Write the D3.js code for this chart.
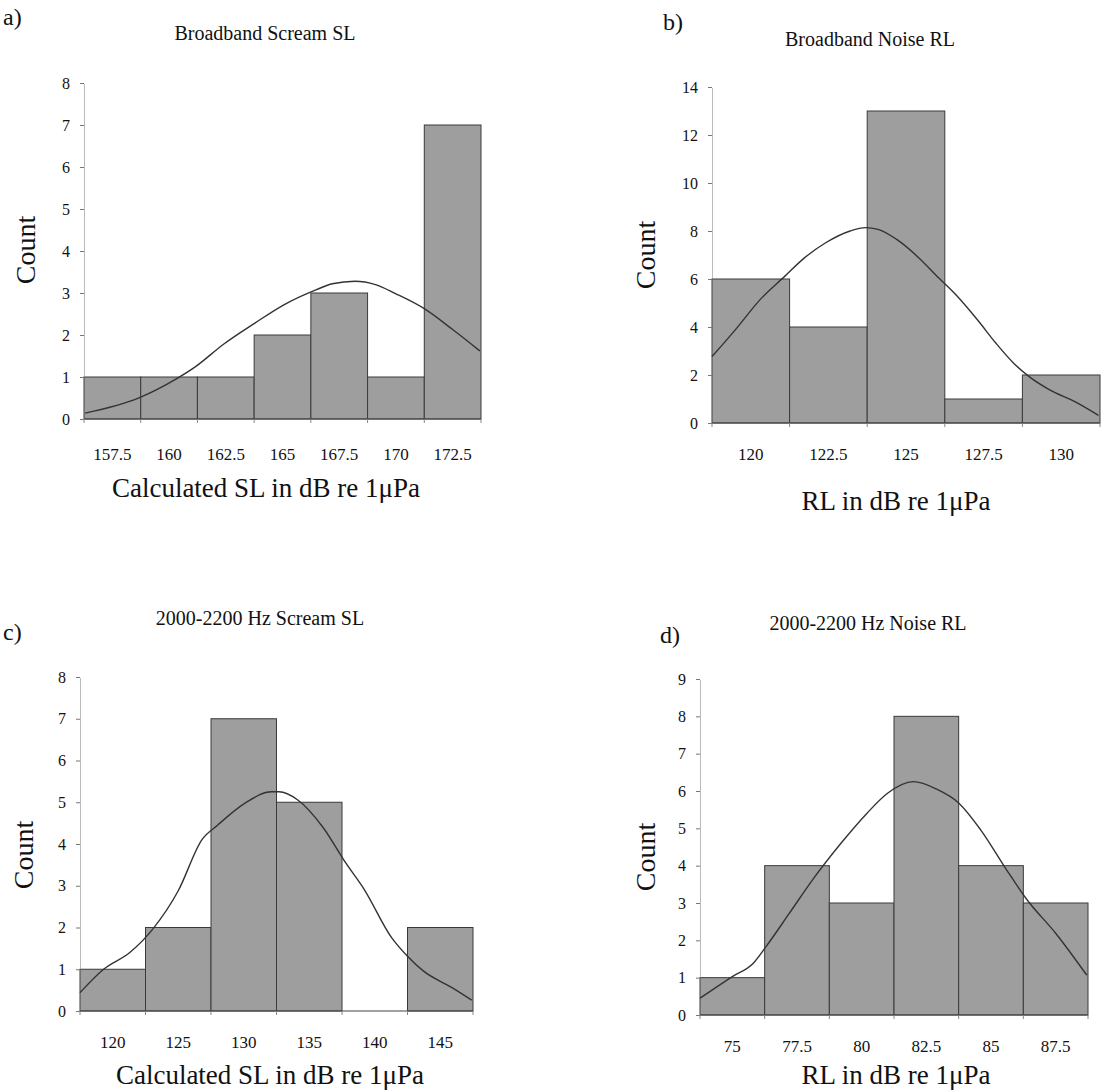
<!DOCTYPE html>
<html>
<head>
<meta charset="utf-8">
<script src="https://cdn.jsdelivr.net/npm/d3@7"></script>
<style>
  html, body { margin: 0; padding: 0; background: #fff; }
  svg { display: block; }
  text { font-family: "Liberation Serif", "Times New Roman", serif; fill: #111; }
</style>
</head>
<body>
<svg id="chart" width="1101" height="1092"></svg>
<script>
// ---------- DATA ----------
// a) Broadband Scream SL
const aCenters = [157.5, 160, 162.5, 165, 167.5, 170, 172.5];
const aCounts  = [1, 1, 1, 2, 3, 1, 7];
const aCurveX  = [156.3, 158.7, 160.3, 161.2, 162.4, 163.8, 165.1, 166.5, 167.2, 168.2, 169.1, 170.0, 171.3, 172.5, 173.7];
const aCurveY  = [0.14, 0.51, 0.95, 1.26, 1.78, 2.29, 2.73, 3.08, 3.22, 3.28, 3.20, 2.98, 2.61, 2.13, 1.62];

// b) Broadband Noise RL
const bCurveX  = [118.75, 119.5, 120.3, 121.1, 121.7, 122.4, 123.2, 123.7, 124.1, 124.7, 125.4, 126.05, 126.6, 127.3, 127.9, 128.5, 129.0, 129.6, 130.5, 131.2];
const bCurveY  = [2.77, 3.88, 5.14, 6.12, 6.85, 7.5, 8.0, 8.14, 8.07, 7.65, 6.9, 6.05, 5.35, 4.3, 3.32, 2.45, 1.9, 1.4, 0.85, 0.32];
const bCenters = [120, 122.5, 125, 127.5, 130];
const bCounts  = [6, 4, 13, 1, 2];

// c) 2000-2200 Hz Scream SL
const cCenters = [120, 125, 130, 135, 140, 145];
const cCounts  = [1, 2, 7, 5, 0, 2];
const cCurveX  = [117.5, 119.3, 121.3, 123.1, 125.0, 126.8, 128.0, 130.1, 132.1, 132.7, 134.1, 136.0, 137.8, 139.2, 141.3, 142.5, 143.7, 145.9, 147.4];
const cCurveY  = [0.44, 1.0, 1.4, 1.98, 2.88, 4.1, 4.45, 4.98, 5.25, 5.25, 5.06, 4.42, 3.54, 2.91, 1.75, 1.31, 0.96, 0.56, 0.26];

// d) 2000-2200 Hz Noise RL
const dCenters = [75, 77.5, 80, 82.5, 85, 87.5];
const dCounts  = [1, 4, 3, 8, 4, 3];
const dCurveX  = [73.75, 75.0, 75.8, 76.3, 77.2, 78.1, 79.2, 80.2, 81.0, 82.0, 82.9, 83.75, 84.6, 85.6, 86.4, 87.5, 88.7];
const dCurveY  = [0.45, 1.03, 1.38, 1.83, 2.72, 3.62, 4.6, 5.4, 5.94, 6.25, 6.05, 5.68, 4.96, 3.89, 3.08, 2.19, 1.07];

const titles  = ["Broadband Scream SL", "Broadband Noise RL", "2000-2200 Hz Scream SL", "2000-2200 Hz Noise RL"];
const xLabels = ["Calculated SL in dB re 1\u03BCPa", "RL in dB re 1\u03BCPa", "Calculated SL in dB re 1\u03BCPa", "RL in dB re 1\u03BCPa"];
const panelTags = ["a)", "b)", "c)", "d)"];
const yMaxes  = [8, 14, 8, 9];
const yStepVals = [1, 2, 1, 1];
const binWidths = [2.5, 2.5, 5, 2.5];

// ---------- LAYOUT ----------
const layout = [
  { x0: 84,  x1: 481,  y0: 419,  yT: 83,  tagX: 3,   tagY: 25,  tX: 265, tY: 40,  lX: 266, lY: 497,  cX: 35,  cY: 250, tickY: 460 },
  { x0: 712, x1: 1100, y0: 423,  yT: 87,  tagX: 663, tagY: 30,  tX: 870, tY: 46,  lX: 896, lY: 510,  cX: 655, cY: 255, tickY: 460 },
  { x0: 80,  x1: 473,  y0: 1011, yT: 677, tagX: 3,   tagY: 640, tX: 260, tY: 625, lX: 270, lY: 1084, cX: 33,  cY: 855, tickY: 1048 },
  { x0: 700, x1: 1088, y0: 1015, yT: 679, tagX: 660, tagY: 643, tX: 868, tY: 630, lX: 896, lY: 1084, cX: 655, cY: 857, tickY: 1052 }
];

const panels = [
  { centers: aCenters, counts: aCounts, cx: aCurveX, cy: aCurveY },
  { centers: bCenters, counts: bCounts, cx: bCurveX, cy: bCurveY },
  { centers: cCenters, counts: cCounts, cx: cCurveX, cy: cCurveY },
  { centers: dCenters, counts: dCounts, cx: dCurveX, cy: dCurveY }
];

const svg = d3.select("#chart");

panels.forEach((p, i) => {
  const L = layout[i];
  const w = binWidths[i];
  const lo = p.centers[0] - w / 2;
  const hi = p.centers[p.centers.length - 1] + w / 2;
  const x = d3.scaleLinear().domain([lo, hi]).range([L.x0, L.x1]);
  const y = d3.scaleLinear().domain([0, yMaxes[i]]).range([L.y0, L.yT]);
  const g = svg.append("g");

  // panel tag
  g.append("text").attr("x", L.tagX).attr("y", L.tagY)
    .style("font-size", "24px").text(panelTags[i]);
  // title
  g.append("text").attr("x", L.tX).attr("y", L.tY).attr("text-anchor", "middle")
    .style("font-size", "20px").text(titles[i]);

  // bars
  const bins = p.centers.map((c, k) => ({ c, n: p.counts[k] }));
  g.selectAll("rect.bar").data(bins.filter(b => b.n > 0)).join("rect")
    .attr("class", "bar")
    .attr("x", d => x(d.c - w / 2))
    .attr("width", d => x(d.c + w / 2) - x(d.c - w / 2))
    .attr("y", d => y(d.n))
    .attr("height", d => y(0) - y(d.n))
    .attr("fill", "#9e9e9e")
    .attr("stroke", "#3a3a3a")
    .attr("stroke-width", 1);

  // y axis (dotted)
  const yTicks = d3.range(0, yMaxes[i] + 0.001, yStepVals[i]);
  const yAxis = d3.axisLeft(y).tickValues(yTicks).tickSize(4).tickSizeOuter(0).tickPadding(10).tickFormat(d3.format("d"));
  const ya = g.append("g").attr("transform", `translate(${L.x0},0)`).call(yAxis);
  ya.select(".domain").attr("stroke", "#777").attr("stroke-dasharray", "1,1");
  ya.selectAll(".tick line").attr("stroke", "#777");
  ya.selectAll(".tick text").style("font-size", "16px")
    .style("font-family", "'Liberation Serif', 'Times New Roman', serif").attr("fill", "#111");

  // x axis
  const edges = d3.range(0, p.centers.length + 1).map(k => lo + k * w);
  g.append("line").attr("x1", L.x0).attr("x2", L.x1).attr("y1", L.y0).attr("y2", L.y0)
    .attr("stroke", "#444").attr("stroke-width", 1.2);
  g.selectAll("line.xt").data(edges).join("line").attr("class", "xt")
    .attr("x1", d => x(d)).attr("x2", d => x(d)).attr("y1", L.y0).attr("y2", L.y0 + 4)
    .attr("stroke", "#888");
  g.selectAll("text.xl").data(p.centers).join("text").attr("class", "xl")
    .attr("x", d => x(d)).attr("y", L.tickY).attr("text-anchor", "middle")
    .style("font-size", "17px").text(d => d3.format("")(d));

  // curve
  const pts = p.cx.map((v, k) => [v, p.cy[k]]);
  g.append("path").datum(pts)
    .attr("d", d3.line().x(d => x(d[0])).y(d => y(d[1])).curve(d3.curveMonotoneX))
    .attr("fill", "none").attr("stroke", "#333").attr("stroke-width", 1.4);

  // axis labels
  g.append("text").attr("x", L.lX).attr("y", L.lY).attr("text-anchor", "middle")
    .style("font-size", "27px").text(xLabels[i]);
  g.append("text").attr("transform", `translate(${L.cX},${L.cY}) rotate(-90)`)
    .attr("text-anchor", "middle").style("font-size", "28px").text("Count");
});
</script>
</body>
</html>
